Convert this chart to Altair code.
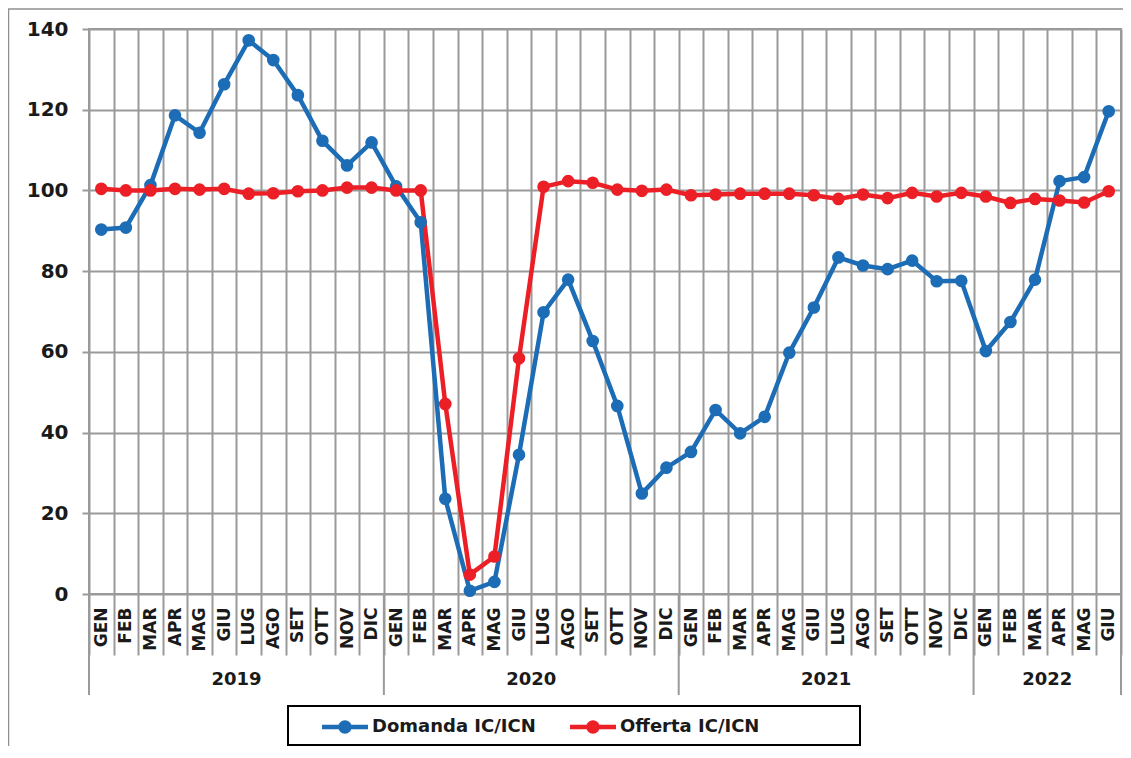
import json
import altair as alt
import pandas as pd

# ---- data ----
month_labels = ["GEN", "FEB", "MAR", "APR", "MAG", "GIU", "LUG", "AGO", "SET", "OTT", "NOV", "DIC"] * 3 + \
               ["GEN", "FEB", "MAR", "APR", "MAG", "GIU"]
year_labels = ["2019"] * 12 + ["2020"] * 12 + ["2021"] * 12 + ["2022"] * 6

domanda = [90.3, 90.8, 101.3, 118.6, 114.3, 126.3, 137.2, 132.3, 123.6, 112.3, 106.2, 111.9,
           101.0, 92.1, 23.6, 0.8, 3.0, 34.5, 69.8, 77.9, 62.7, 46.6, 24.9, 31.3,
           35.2, 45.6, 39.8, 43.9, 59.8, 71.0, 83.4, 81.4, 80.5, 82.6, 77.5, 77.6,
           60.2, 67.4, 77.9, 102.3, 103.3, 119.6]
offerta = [100.4, 100.0, 100.0, 100.4, 100.2, 100.4, 99.2, 99.3, 99.8, 100.0, 100.7, 100.7,
           100.0, 100.0, 47.1, 4.8, 9.3, 58.4, 100.9, 102.3, 101.9, 100.2, 99.9, 100.2,
           98.8, 99.0, 99.2, 99.2, 99.2, 98.8, 97.9, 99.0, 98.1, 99.4, 98.5, 99.4,
           98.5, 96.9, 97.9, 97.5, 97.0, 99.8]
series_names = ["Domanda IC/ICN", "Offerta IC/ICN"]
series_colors = ["#1c6db5", "#ec1f26"]
y_ticks = [0, 20, 40, 60, 80, 100, 120, 140]

n = len(month_labels)
rows = []
for name, vals in zip(series_names, [domanda, offerta]):
    for i, v in enumerate(vals):
        rows.append({"idx": i, "month": month_labels[i], "year": year_labels[i], "series": name, "value": v})
df = pd.DataFrame(rows)

ydf = pd.DataFrame({"idx": list(range(n)), "year": year_labels})
years = ydf.groupby("year", sort=True)["idx"].agg(["min", "max"]).reset_index()
years["center"] = (years["min"] + years["max"]) / 2
sep_pos = [v - 0.5 for v in years["min"].tolist()] + [n - 0.5]
sep_df = pd.DataFrame({"pos": sep_pos})

W, H = 1032, 565
GRID = "#9a9a9a"
FONT = "DejaVu Sans"
TXT = "#1a1a1a"
band = W / n

boundaries = [k - 0.5 for k in range(n + 1)]
label_expr = f"{json.dumps(month_labels)}[round(datum.value + 0.5)] || ''"

xscale = alt.Scale(domain=[-0.5, n - 0.5], nice=False, zero=False)
yscale = alt.Scale(domain=[0, 140], nice=False)

xaxis = alt.Axis(values=boundaries, grid=True, gridColor=GRID, gridWidth=2,
                 ticks=True, tickSize=61, tickColor=GRID, tickWidth=2, domain=False,
                 labelAngle=-90, labelExpr=label_expr, labelOffset=band / 2,
                 labelPadding=-48, labelOverlap=False, labelFlush=False, labelBound=False,
                 labelFont=FONT, labelFontSize=17, labelFontWeight="bold", labelColor=TXT,
                 title=None)
yaxis = alt.Axis(values=y_ticks, grid=True, gridColor=GRID, gridWidth=2,
                 ticks=True, tickSize=7, tickColor=GRID, tickWidth=2, domain=False,
                 labelFont=FONT, labelFontSize=20, labelFontWeight="bold", labelColor=TXT,
                 labelPadding=14, title=None)

color_scale = alt.Scale(domain=series_names, range=series_colors)

sym_path = ("M-1,-0.1L1,-0.1L1,0.1L-1,0.1Z "
            "M-0.29,0A0.29,0.29 0 1,1 0.29,0A0.29,0.29 0 1,1 -0.29,0Z")

base = alt.Chart(df)

lines = base.mark_line(strokeWidth=4.5).encode(
    x=alt.X("idx:Q", scale=xscale, axis=xaxis),
    y=alt.Y("value:Q", scale=yscale, axis=yaxis),
    color=alt.Color("series:N", scale=color_scale, legend=None),
)

points = base.mark_circle(size=160, opacity=1).encode(
    x=alt.X("idx:Q", scale=xscale, axis=xaxis),
    y=alt.Y("value:Q", scale=yscale, axis=yaxis),
    color=alt.Color("series:N", scale=color_scale,
                    legend=alt.Legend(orient="none", legendX=233, legendY=675,
                                      direction="horizontal", title=None,
                                      symbolType=sym_path, symbolSize=2116,
                                      symbolStrokeWidth=0, symbolOpacity=1,
                                      labelFont=FONT, labelFontSize=18, labelFontWeight="bold",
                                      labelColor=TXT, labelOffset=4, columnPadding=34,
                                      padding=0, labelLimit=300)),
    order=alt.Order("series:N"),
)

seps = alt.Chart(sep_df).mark_rule(color=GRID, strokeWidth=2).encode(
    x=alt.X("pos:Q", scale=xscale, axis=xaxis),
    y=alt.value(H), y2=alt.value(H + 101),
)

year_text = alt.Chart(years).mark_text(font=FONT, fontSize=18, fontWeight="bold",
                                        color=TXT, baseline="middle", align="center").encode(
    x=alt.X("center:Q", scale=xscale, axis=xaxis),
    y=alt.value(H + 86),
    text="year:N",
)

one = alt.Data(values=[{"k": 1}])
legend_box = alt.Chart(one).mark_rect(fill="white", stroke="black", strokeWidth=2).encode(
    x=alt.value(199), x2=alt.value(771), y=alt.value(677), y2=alt.value(716),
)
frame_left = alt.Chart(one).mark_rule(color="#8f8f8f", strokeWidth=1.5).encode(
    x=alt.value(-80.5), y=alt.value(-20), y2=alt.value(H + 200),
)
frame_top = alt.Chart(one).mark_rule(color="#8f8f8f", strokeWidth=1.5).encode(
    x=alt.value(-81), x2=alt.value(W + 20), y=alt.value(-20),
)

chart = alt.layer(frame_left, frame_top, seps, year_text, legend_box, lines, points).properties(
    width=W, height=H,
    padding={"left": 81, "top": 21, "right": 2, "bottom": 152},
    autosize=alt.AutoSizeParams(type="none"),
    background="white",
).resolve_legend(color="independent").configure_view(stroke=GRID, strokeWidth=2)

chart.save("out.html", embed_options={"renderer": "svg", "actions": False})
